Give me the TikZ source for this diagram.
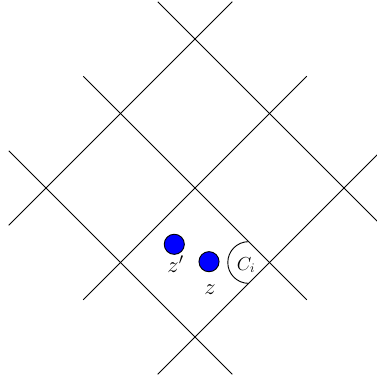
\documentclass[tikz,border=0pt]{standalone}
\usepackage{amsmath}
\begin{document}
\begin{tikzpicture}[x=1cm,y=1cm,line width=0.7pt,
    dot/.style={circle,draw,fill=blue,inner sep=0pt,minimum size=5.4mm},
    lbl/.style={font=\LARGE}]
    \useasboundingbox (-5.235,-5.181) rectangle (4.859,5.047);

    \draw (-1,5) -- (5,-1);
    \draw (-3,3) -- (3,-3);
    \draw (-5,1) -- (1,-5);
    \draw (-5,-1) -- (1,5);
    \draw (-3,-3) -- (3,3);
    \draw (-1,-5) -- (5,1);

    \node[dot] (zp) at (-0.556,-1.511) {};
    \node[dot] (z) at (0.376,-1.978) {};
    \node[lbl] (lzp) at (-0.52,-2.05) {\(z'\)};
    \node[lbl] (lz) at (0.40,-2.72) {\(z\)};

    \draw (1.44,-1.44) arc (90:270:0.56);
    \node[font=\Large] (Ci) at (1.37,-2.07) {\(C_i\)};
\end{tikzpicture}
\end{document}
